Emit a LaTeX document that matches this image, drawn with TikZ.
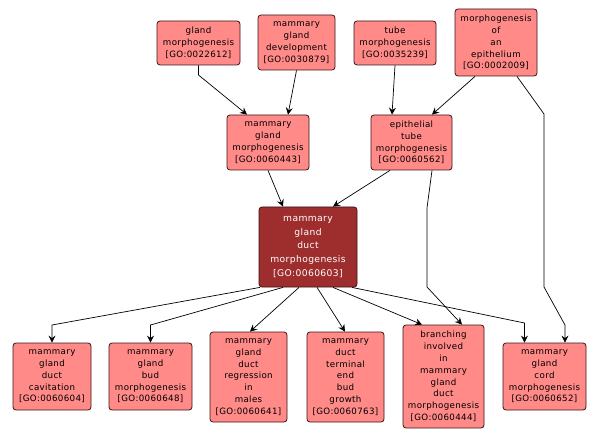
\documentclass[tikz,border=0pt]{standalone}
\usepackage{fontspec}
\newfontfamily\lblfont[LetterSpace=4]{DejaVu Sans}
\usetikzlibrary{arrows.meta}
\definecolor{nodefill}{RGB}{255,138,136}
\definecolor{ctrfill}{RGB}{158,45,45}
\definecolor{nodeline}{RGB}{60,20,20}
\tikzset{
  term/.style={draw=nodeline, line width=0.8pt, fill=nodefill, rounded corners=3pt,
    align=center, inner sep=0pt, font=\lblfont\fontsize{8.7}{11.8}\selectfont, text=black},
  ctrterm/.style={term, fill=ctrfill, text=white, font=\lblfont\fontsize{9.2}{13.7}\selectfont},
  edge/.style={draw=black, line width=0.7pt, -{Stealth[length=7pt,width=7pt,inset=2.5pt]}}
}
\begin{document}
\begin{tikzpicture}[x=1pt,y=-1pt]
\useasboundingbox (0,0) rectangle (599,438);
% top row
\node[term, minimum width=83pt, minimum height=44pt] (gm) at (198.5,43) {gland\\morphogenesis\\{[GO:0022612]}};
\node[term, minimum width=77pt, minimum height=55pt] (mgd) at (296.5,42.5) {mammary\\gland\\development\\{[GO:0030879]}};
\node[term, minimum width=82pt, minimum height=44pt] (tm) at (395,43) {tube\\morphogenesis\\{[GO:0035239]}};
\node[term, minimum width=82pt, minimum height=67pt] (moe) at (496,42.5) {morphogenesis\\of\\an\\epithelium\\{[GO:0002009]}};
% middle
\node[term, minimum width=82pt, minimum height=55pt] (mgm) at (268,142.5) {mammary\\gland\\morphogenesis\\{[GO:0060443]}};
\node[term, minimum width=81pt, minimum height=55pt] (etm) at (411.5,142.5) {epithelial\\tube\\morphogenesis\\{[GO:0060562]}};
% center
\node[ctrterm, minimum width=98pt, minimum height=80pt] (ctr) at (308,247) {mammary\\gland\\duct\\morphogenesis\\{[GO:0060603]}};
% bottom
\node[term, minimum width=78pt, minimum height=67pt] (cav) at (52,376.5) {mammary\\gland\\duct\\cavitation\\{[GO:0060604]}};
\node[term, minimum width=83pt, minimum height=67pt] (bud) at (150.5,376.5) {mammary\\gland\\bud\\morphogenesis\\{[GO:0060648]}};
\node[term, minimum width=77pt, minimum height=90pt] (reg) at (248.5,377) {mammary\\gland\\duct\\regression\\in\\males\\{[GO:0060641]}};
\node[term, minimum width=77pt, minimum height=90pt] (teb) at (345.5,377) {mammary\\duct\\terminal\\end\\bud\\growth\\{[GO:0060763]}};
\node[term, minimum width=81pt, minimum height=103pt] (br) at (443.5,376.5) {branching\\involved\\in\\mammary\\gland\\duct\\morphogenesis\\{[GO:0060444]}};
\node[term, minimum width=83pt, minimum height=67pt] (cord) at (544.5,376.5) {mammary\\gland\\cord\\morphogenesis\\{[GO:0060652]}};
% edges
\draw[edge] (gm.south) -- (198.5,75) -- ([xshift=-21pt]mgm.north);
\draw[edge] (mgd.south) -- ([xshift=20pt]mgm.north);
\draw[edge] (tm.south) -- ([xshift=-19.5pt]etm.north);
\draw[edge] ([xshift=-21pt]moe.south) -- ([xshift=20.5pt]etm.north);
\draw[edge] ([xshift=21pt]moe.south) -- (544,114) -- (544,287) -- (565,325) -- ([xshift=20.5pt]cord.north);
\draw[edge] (mgm.south) -- ([xshift=-25pt]ctr.north);
\draw[edge] ([xshift=-21.5pt]etm.south) -- ([xshift=25pt]ctr.north);
\draw[edge] ([xshift=20.5pt]etm.south) -- (427,208) -- (427,287) -- ([xshift=18.5pt]br.north);
\draw[edge] ([xshift=-48pt]ctr.south) -- (52,325) -- (cav.north);
\draw[edge] ([xshift=-25pt]ctr.south) -- (150.5,325) -- (bud.north);
\draw[edge] ([xshift=-9pt]ctr.south) -- ([xshift=1.5pt]reg.north);
\draw[edge] ([xshift=9pt]ctr.south) -- ([xshift=-0.5pt]teb.north);
\draw[edge] ([xshift=25pt]ctr.south) -- ([xshift=-21.5pt]br.north);
\draw[edge] ([xshift=44pt]ctr.south) -- (524.5,323) -- ([xshift=-20pt]cord.north);
\end{tikzpicture}
\end{document}
